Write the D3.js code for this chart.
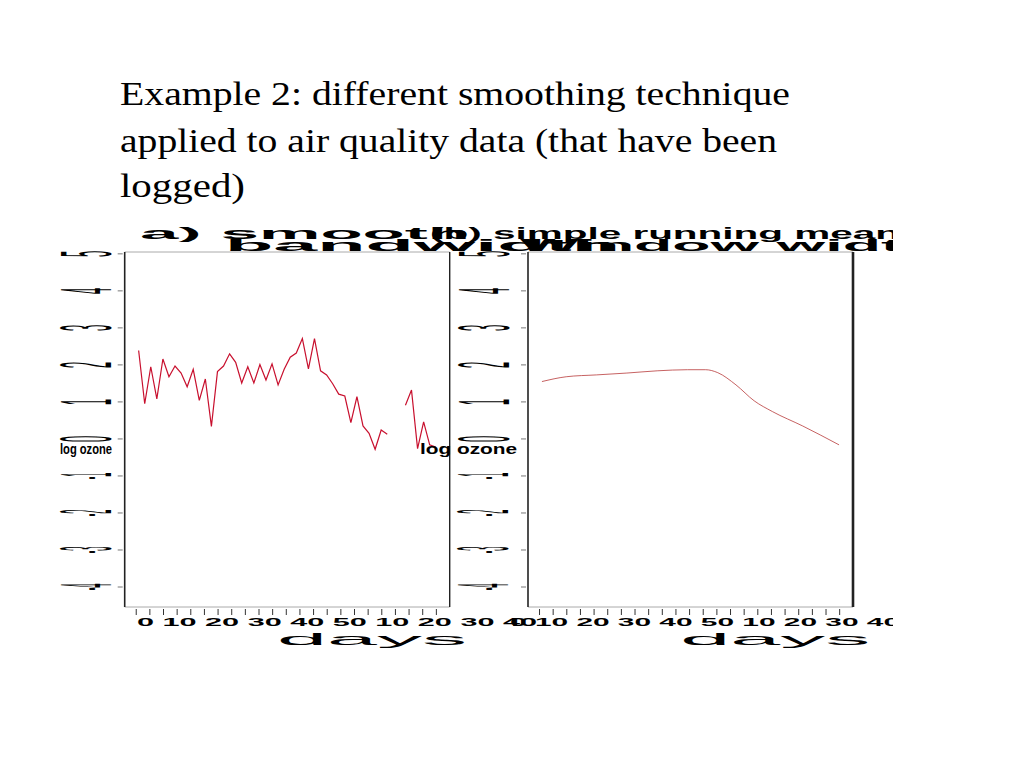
<!DOCTYPE html>
<html lang="en">
<head>
  <meta charset="utf-8">
  <title>Example 2</title>
  <script src="https://d3js.org/d3.v7.min.js"></script>
</head>
<style>
body { margin: 0; background: white; }
.slide-title {
  font-family: "Liberation Serif", "Times New Roman", serif;
  font-size: 33px;
  fill: black;
}
.garbled {
  font-family: "Liberation Sans", Arial, sans-serif;
  fill: black;
}
.frame-dark { stroke: #222; stroke-width: 1.6; fill: none; }
.frame-light { stroke: #aaa; stroke-width: 1; fill: none; }
.tick { stroke: #777; stroke-width: 1; }
</style>
<body>
  <div class="chart"></div>

<script type="text/javascript">
// raw series: log air quality, one value per day (null = missing)
var ozoneLog = [2.39, 0.95, 1.95, 1.08, 2.16, 1.68, 1.97, 1.78, 1.41, 1.88,
  1.04, 1.62, 0.34, 1.82, 1.97, 2.30, 2.07, 1.51, 1.95, 1.51,
  2.01, 1.59, 2.03, 1.46, 1.88, 2.21, 2.32, 2.71, 1.89, 2.71,
  1.84, 1.73, 1.49, 1.21, 1.16, 0.44, 1.14, 0.35, 0.15, -0.28,
  0.24, 0.13, null, null, 0.91, 1.32, -0.26, 0.46, -0.16, -0.22];

// smoothed curve (panel b)
var smoothDays = [1, 5, 10, 15, 20, 25, 28, 30, 33, 36, 39, 44, 50];
var smoothVals = [1.55, 1.68, 1.73, 1.78, 1.84, 1.87, 1.87, 1.79, 1.46, 1.03, 0.74, 0.35, -0.16];

var yTickValues = [5, 4, 3, 2, 1, 0, -1, -2, -3, -4];
var xTickValues = [0.6, 2.85, 5.1, 7.35, 9.6, 11.85, 14.1, 16.35, 18.6, 20.85, 23.1, 25.35,
  27.6, 29.85, 32.1, 34.35, 36.6, 38.85, 41.1, 43.35, 45.6, 47.85, 50.1];
var xTickText = "0 10 20 30 40 50 10 20 30 40";

var titleLines = ["Example 2: different smoothing technique",
  "applied to air quality data (that have been",
  "logged)"];
var panelTitles = [["a) smooth", "bandwidth"], ["(b) simple running mean", "Window width"]];
var xLabel = "days";
var yLabel = "log ozone";

var width = 1024, height = 768;
var svg = d3.select(".chart").append("svg")
  .attr("width", width)
  .attr("height", height);

svg.append("rect").attr("width", width).attr("height", height).attr("fill", "white");

// slide heading
var titleBase = [105, 152, 197];
var titleLen = [670, 657, 125];
titleLines.forEach(function(t, i) {
  svg.append("text")
    .attr("class", "slide-title")
    .attr("x", 120)
    .attr("y", titleBase[i])
    .attr("textLength", titleLen[i])
    .attr("lengthAdjust", "spacingAndGlyphs")
    .text(t);
});

svg.append("clipPath").attr("id", "figclip")
  .append("rect").attr("x", 0).attr("y", 0).attr("width", 893).attr("height", height);
var fig = svg.append("g").attr("clip-path", "url(#figclip)");

var plotTop = 252, plotBottom = 607, panelW = 325;
var y = d3.scaleLinear().domain([-4.54, 5.05]).range([plotBottom, plotTop]);

// rotated, squeezed label like the broken device output
var squashed = function(g, txt, cx, cy, size, sx, sy) {
  g.append("text")
    .attr("class", "garbled")
    .attr("transform", "translate(" + cx + "," + cy + ") scale(" + sx + "," + sy + ") rotate(-90)")
    .attr("text-anchor", "middle")
    .attr("dominant-baseline", "central")
    .style("font-size", size + "px")
    .text(txt);
};

var panels = [
  {left: 124.7, labelX: 86, yLabX: 60, yLabW: 52, titleX: [140, 225], titleW: [330, 395], xlabX: 137, xlabW: 400},
  {left: 528, labelX: 483.5, yLabX: 420, yLabW: 97, titleX: [430, 520], titleW: [470, 420], xlabX: 510, xlabW: 390}
];

panels.forEach(function(p, pi) {
  var g = fig.append("g");
  var x = d3.scaleLinear().domain([-1.3, 52.3]).range([p.left, p.left + panelW]);

  // frame
  g.append("line").attr("class", "frame-light")
    .attr("x1", p.left).attr("x2", p.left + panelW).attr("y1", plotTop).attr("y2", plotTop);
  g.append("line").attr("class", "frame-light")
    .attr("x1", p.left).attr("x2", p.left + panelW).attr("y1", plotBottom).attr("y2", plotBottom);
  g.append("line").attr("class", "frame-dark")
    .attr("x1", p.left).attr("x2", p.left).attr("y1", plotTop).attr("y2", plotBottom);
  g.append("line").attr("class", "frame-dark")
    .style("stroke-width", pi == 1 ? 2.6 : 1.4)
    .attr("x1", p.left + panelW).attr("x2", p.left + panelW).attr("y1", plotTop).attr("y2", plotBottom);

  // y ticks + squeezed labels
  yTickValues.forEach(function(v) {
    g.append("line").attr("class", "tick")
      .attr("x1", p.left - 7).attr("x2", p.left - 2)
      .attr("y1", y(v)).attr("y2", y(v));
    squashed(g, String(v), p.labelX, y(v), 10, 7.2, v < 0 ? 0.75 : 1.1);
  });
  // y axis title, smeared across the zero row
  g.append("text").attr("class", "garbled")
    .attr("transform", "translate(" + p.yLabX + "," + (y(0) + 15) + ") scale(1,0.9)")
    .attr("textLength", p.yLabW)
    .attr("lengthAdjust", "spacingAndGlyphs")
    .style("font-size", "17px").style("font-weight", "bold")
    .text(yLabel);

  // x ticks
  xTickValues.forEach(function(v) {
    g.append("line").attr("class", "tick")
      .style("stroke", "#333")
      .attr("x1", x(v)).attr("x2", x(v))
      .attr("y1", plotBottom + 2).attr("y2", plotBottom + 8);
  });
  g.append("text").attr("class", "garbled")
    .attr("transform", "translate(" + p.xlabX + ",626) scale(1,0.75)")
    .attr("textLength", p.xlabW)
    .attr("lengthAdjust", "spacingAndGlyphs")
    .style("font-size", "14px").style("font-weight", "bold")
    .text(xTickText);

  g.append("text").attr("class", "garbled")
    .attr("x", x(39.5)).attr("y", 645)
    .attr("text-anchor", "middle")
    .attr("textLength", 190)
    .attr("lengthAdjust", "spacingAndGlyphs")
    .style("font-size", "17px")
    .text(xLabel);

  // panel titles (two lines, stretched)
  panelTitles[pi].forEach(function(t, li) {
    g.append("text").attr("class", "garbled")
      .attr("x", p.titleX[li]).attr("y", 239 + li * 12)
      .attr("textLength", p.titleW[li])
      .attr("lengthAdjust", "spacingAndGlyphs")
      .style("font-size", "17px")
      .style("font-weight", "bold")
      .text(t);
  });

  // series
  if (pi == 0) {
    var line = d3.line()
      .defined(function(d) { return d != null; })
      .x(function(d, i) { return x(i + 1); })
      .y(function(d) { return y(d); });
    g.append("path").datum(ozoneLog)
      .attr("fill", "none")
      .attr("stroke", "#c8102e")
      .attr("stroke-width", 1.2)
      .attr("d", line);
  } else {
    var smooth = d3.line()
      .curve(d3.curveMonotoneX)
      .x(function(d) { return x(d[0]); })
      .y(function(d) { return y(d[1]); });
    g.append("path").datum(d3.zip(smoothDays, smoothVals))
      .attr("fill", "none")
      .attr("stroke", "#b83a3a")
      .attr("stroke-width", 0.8)
      .attr("d", smooth);
  }
});
</script>
</body>
</html>
